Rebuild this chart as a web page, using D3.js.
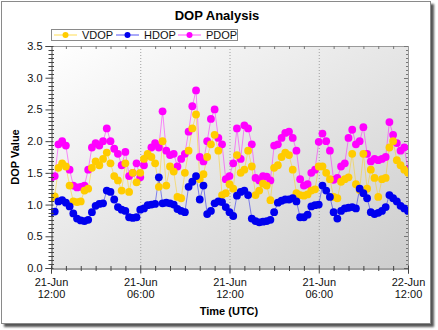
<!DOCTYPE html>
<html><head><meta charset="utf-8">
<script src="https://cdn.jsdelivr.net/npm/d3@7/dist/d3.min.js"></script>
<style>
body{margin:0;background:#fff}
svg{display:block;font-family:Arial,"Liberation Sans",sans-serif}
</style>
</head><body>
<svg id="chart" width="438" height="330"></svg>
<script>
// ---- data (one sample every 0.25 h, 97 samples) ----
const stepHours = 0.25;
const seriesNames = ["VDOP", "HDOP", "PDOP"];
const seriesColors = ["#ffcc00", "#0000ee", "#ff00ff"];
const vdop = [1.10,1.13,1.58,1.65,1.60,1.30,1.05,1.04,1.05,1.22,1.25,1.58,1.68,1.62,1.72,1.82,1.65,1.45,1.38,1.22,
  1.65,1.20,1.50,1.35,1.50,1.72,1.80,1.75,1.65,1.28,2.00,1.30,1.60,1.52,1.12,1.10,1.50,1.85,2.20,2.42,
  1.40,1.48,1.75,1.95,2.10,1.85,1.15,1.18,1.32,1.25,1.78,1.50,1.55,1.85,1.60,1.15,1.22,1.33,1.30,1.07,
  1.58,1.62,1.75,1.82,1.78,1.55,1.18,1.15,1.14,1.16,1.22,1.24,1.60,1.60,1.50,1.40,1.12,1.10,1.36,1.40,
  1.43,1.80,1.32,1.23,1.80,1.25,1.55,1.42,1.12,1.40,1.42,1.90,2.00,1.70,1.62,1.55,1.50];
const hdop = [0.88,0.89,1.05,1.07,1.03,0.97,0.86,0.78,0.75,0.74,0.76,0.88,0.98,1.01,1.02,1.22,1.20,1.08,0.96,0.92,
  0.90,0.80,0.79,0.80,0.92,0.94,0.99,1.00,1.01,1.43,1.02,1.03,1.02,1.00,0.93,0.90,0.88,1.28,1.36,1.45,
  1.08,1.30,0.85,0.90,1.02,1.05,1.04,0.96,0.88,0.82,1.14,1.20,1.22,1.15,0.78,0.74,0.72,0.73,0.74,0.76,
  0.88,1.03,1.06,1.08,1.08,1.10,1.05,0.80,0.80,0.84,0.97,0.99,1.00,1.30,1.22,1.12,0.88,0.78,0.90,0.94,
  0.95,0.96,0.94,1.25,1.18,1.10,0.88,0.85,0.87,0.90,0.96,1.15,1.10,1.05,0.98,0.94,0.90];
const pdop = [1.42,1.45,1.95,2.00,1.93,1.55,1.30,1.27,1.28,1.30,1.55,1.90,1.97,1.93,2.00,2.20,2.00,1.88,1.80,1.62,
  1.83,1.45,1.50,1.65,1.43,1.62,1.78,1.90,1.97,1.90,2.47,1.85,1.78,1.80,1.60,1.72,1.80,2.15,2.55,2.80,
  1.75,1.68,2.00,2.35,2.50,2.05,1.95,1.40,1.45,1.65,2.20,1.72,2.25,2.20,1.95,1.42,1.38,1.45,1.44,1.38,
  1.93,1.95,2.05,2.13,2.15,2.05,1.85,1.40,1.30,1.32,1.50,1.55,1.99,2.12,2.00,1.85,1.39,1.42,1.60,1.65,
  2.05,2.18,1.95,2.00,2.22,1.80,1.68,1.72,1.70,1.72,1.75,2.30,2.10,1.97,1.85,1.90,1.55];
const seriesValues = [vdop, hdop, pdop];
const xTickHours = [0, 6, 12, 18, 24];
const xTickDates = ["21-Jun", "21-Jun", "21-Jun", "21-Jun", "22-Jun"];
const xTickTimes = ["12:00", "06:00", "12:00", "06:00", "12:00"];
const yTicks = [0, 0.5, 1.0, 1.5, 2.0, 2.5, 3.0, 3.5];

// ---- drawing ----
const svg = d3.select("#chart");
const defs = svg.append("defs");
const blur = defs.append("filter").attr("id","sh").attr("x","-5%").attr("y","-5%").attr("width","110%").attr("height","110%");
blur.append("feGaussianBlur").attr("stdDeviation", 1.3);
const grad = defs.append("linearGradient").attr("id","bg").attr("x1","0").attr("y1","0").attr("x2","1").attr("y2","1");
grad.append("stop").attr("offset","0").attr("stop-color","#ffffff");
grad.append("stop").attr("offset","1").attr("stop-color","#cdcdcd");
const clip = defs.append("clipPath").attr("id","clip");

// frame + shadow
svg.append("rect").attr("x",4).attr("y",4).attr("width",430).attr("height",323).attr("fill","#555").attr("filter","url(#sh)");
svg.append("rect").attr("x",1.5).attr("y",1.5).attr("width",429).attr("height",322).attr("fill","#fff").attr("stroke","#8a8a8a");

const x = d3.scaleLinear().domain([0, 24]).range([51, 408]);
const y = d3.scaleLinear().domain([0, 3.5]).range([268, 46]);
const X0 = x.range()[0], X1 = x.range()[1], Y0 = y.range()[1], Y1 = y.range()[0];

clip.append("rect").attr("x",X0).attr("y",Y0).attr("width",X1-X0).attr("height",Y1-Y0);

// plot background
svg.append("rect").attr("x",X0).attr("y",Y0).attr("width",X1-X0).attr("height",Y1-Y0).attr("fill","url(#bg)");

// vertical dotted grid at major x ticks
svg.append("g").selectAll("line").data(xTickHours.slice(1, -1)).join("line")
  .attr("x1", d => x(d) + 0.5).attr("x2", d => x(d) + 0.5).attr("y1", Y0).attr("y2", Y1)
  .attr("stroke", "#a0a0a0").attr("stroke-dasharray", "1,2");

// top and right borders
svg.append("line").attr("x1",X0).attr("x2",X1).attr("y1",Y0+0.5).attr("y2",Y0+0.5).attr("stroke","#9a9a9a");
svg.append("line").attr("x1",X1+0.5).attr("x2",X1+0.5).attr("y1",Y0).attr("y2",Y1).attr("stroke","#9a9a9a");

// minor tick values
const xMinor = d3.range(0, 24.001, 1).filter(h => h % 6 !== 0);
const yMinor = d3.range(0, 3.5001, 0.0625).filter(v => Math.abs(v*2 - Math.round(v*2)) > 1e-6);

// top & right inner ticks
svg.append("g").selectAll("line").data(xMinor).join("line")
  .attr("x1", d => x(d)+0.5).attr("x2", d => x(d)+0.5).attr("y1", Y0).attr("y2", Y0+3).attr("stroke","#777");
svg.append("g").selectAll("line").data(yMinor).join("line")
  .attr("x1", X1-2).attr("x2", X1).attr("y1", d => Math.round(y(d))+0.5).attr("y2", d => Math.round(y(d))+0.5).attr("stroke","#777");
svg.append("g").selectAll("line").data(yTicks).join("line")
  .attr("x1", X1-4).attr("x2", X1).attr("y1", d => Math.round(y(d))+0.5).attr("y2", d => Math.round(y(d))+0.5).attr("stroke","#777");

// series
const plot = svg.append("g").attr("clip-path", "url(#clip)");
const drawOrder = [2, 0, 1]; // PDOP below, VDOP, HDOP on top
drawOrder.forEach(si => {
  const vals = seriesValues[si];
  const pts = vals.map((v, i) => [x(i * stepHours), y(v)]);
  plot.append("path").attr("d", d3.line()(pts)).attr("fill","none")
    .attr("stroke", seriesColors[si]).attr("stroke-opacity", 0.45).attr("stroke-width", 1);
});
drawOrder.forEach(si => {
  const vals = seriesValues[si];
  plot.append("g").selectAll("circle").data(vals).join("circle")
    .attr("cx", (v, i) => x(i * stepHours)).attr("cy", v => y(v)).attr("r", 3.9)
    .attr("fill", seriesColors[si]);
});

// left axis
const gL = svg.append("g").attr("transform", `translate(${X0+0.5},0)`)
  .call(d3.axisLeft(y).tickValues(yTicks).tickFormat(d3.format(".1f")).tickSize(6).tickPadding(3));
gL.select(".domain").attr("stroke","#444");
gL.selectAll(".tick line").attr("x2",-6).attr("x1",2).attr("stroke","#444");
gL.selectAll(".tick text").attr("font-size", 11).attr("fill","#111").attr("font-family","Arial, 'Liberation Sans', sans-serif");
svg.append("g").selectAll("line").data(yMinor).join("line")
  .attr("x1", X0-2.5).attr("x2", X0+3).attr("y1", d => Math.round(y(d))+0.5).attr("y2", d => Math.round(y(d))+0.5).attr("stroke","#444");

// bottom axis
const gB = svg.append("g").attr("transform", `translate(0,${Y1+0.5})`)
  .call(d3.axisBottom(x).tickValues(xTickHours).tickFormat("").tickSize(5));
gB.select(".domain").attr("stroke","#444");
gB.selectAll(".tick line").attr("y1",-3).attr("y2",5).attr("stroke","#444");
svg.append("g").selectAll("line").data(xMinor).join("line")
  .attr("x1", d => x(d)+0.5).attr("x2", d => x(d)+0.5).attr("y1", Y1-2).attr("y2", Y1+3).attr("stroke","#444");
const lab = svg.append("g").attr("font-size", 11).attr("fill","#111").attr("text-anchor","middle");
xTickHours.forEach((h, i) => {
  lab.append("text").attr("x", x(h)+0.5).attr("y", 286).text(xTickDates[i]);
  lab.append("text").attr("x", x(h)+0.5).attr("y", 297.5).text(xTickTimes[i]);
});

// titles
svg.append("text").attr("x", 217).attr("y", 19.5).attr("text-anchor","middle")
  .attr("font-size", 13).attr("font-weight","bold").text("DOP Analysis");
svg.append("text").attr("x", 229).attr("y", 314.5).attr("text-anchor","middle")
  .attr("font-size", 11).attr("font-weight","bold").text("Time (UTC)");
svg.append("text").attr("transform", `translate(18.5,${(Y0+Y1)/2}) rotate(-90)`).attr("text-anchor","middle")
  .attr("font-size", 11).attr("font-weight","bold").text("DOP Value");

// legend
const leg = svg.append("g");
leg.append("rect").attr("x", 51.5).attr("y", 29.5).attr("width", 186).attr("height", 11).attr("fill","#fff").attr("stroke","#8a8a8a");
const legX = [54, 116, 178];
seriesNames.forEach((n, i) => {
  const g = leg.append("g").attr("transform", `translate(${legX[i]},35)`);
  g.append("line").attr("x1",0).attr("x2",23).attr("y1",0).attr("y2",0).attr("stroke",seriesColors[i]).attr("stroke-opacity",0.45).attr("stroke-width",1.5);
  g.append("circle").attr("cx",11.5).attr("cy",0).attr("r",3).attr("fill",seriesColors[i]);
  g.append("text").attr("x",28).attr("y",4).attr("font-size",11).attr("fill","#111").text(n);
});
</script>
</body></html>
